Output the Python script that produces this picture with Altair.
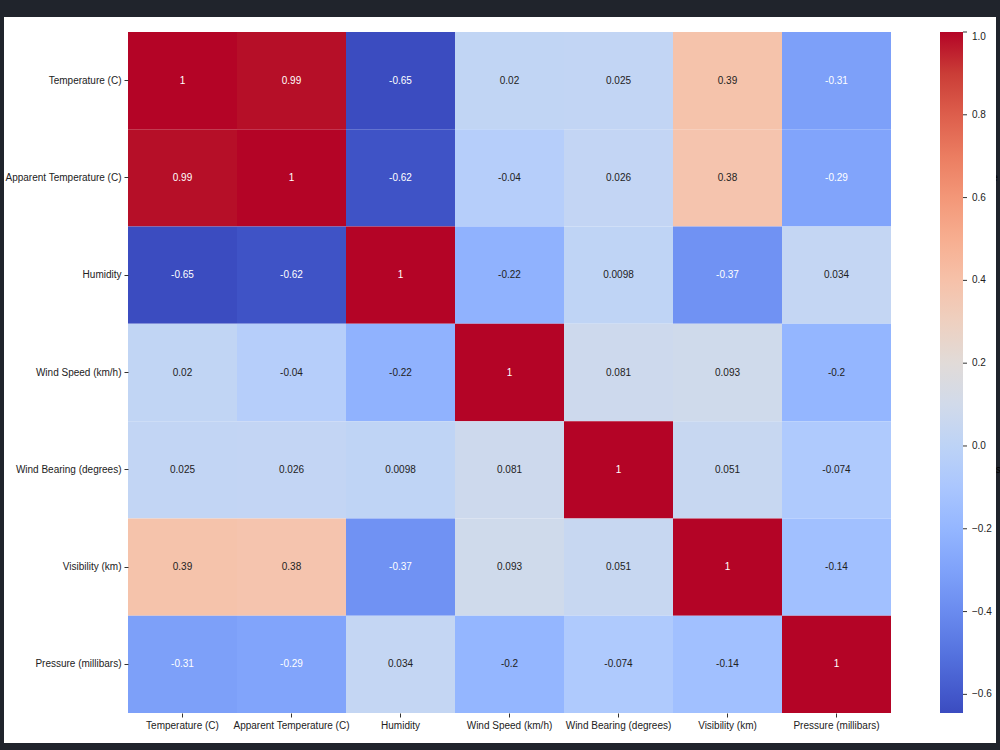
import altair as alt
import pandas as pd

variables = ["Temperature (C)", "Apparent Temperature (C)", "Humidity", "Wind Speed (km/h)",
             "Wind Bearing (degrees)", "Visibility (km)", "Pressure (millibars)"]

row_temperature = [1, 0.99, -0.65, 0.02, 0.025, 0.39, -0.31]
row_apparent = [0.99, 1, -0.62, -0.04, 0.026, 0.38, -0.29]
row_humidity = [-0.65, -0.62, 1, -0.22, 0.0098, -0.37, 0.034]
row_wind_speed = [0.02, -0.04, -0.22, 1, 0.081, 0.093, -0.2]
row_wind_bearing = [0.025, 0.026, 0.0098, 0.081, 1, 0.051, -0.074]
row_visibility = [0.39, 0.38, -0.37, 0.093, 0.051, 1, -0.14]
row_pressure = [-0.31, -0.29, 0.034, -0.2, -0.074, -0.14, 1]

rows = [row_temperature, row_apparent, row_humidity, row_wind_speed,
        row_wind_bearing, row_visibility, row_pressure]

colorbar_ticks = [-0.6, -0.4, -0.2, 0.0, 0.2, 0.4, 0.6, 0.8, 1.0]

# matplotlib "coolwarm" key colours (33 evenly spaced stops)
coolwarm = ["#3b4cc0", "#445acc", "#4d68d7", "#5775e1", "#6282ea", "#6c8ef1", "#779af7", "#82a5fb",
            "#8db0fe", "#98b9ff", "#a3c2ff", "#aec9fd", "#b8d0f9", "#c2d5f4", "#ccd9ee", "#d5dbe6",
            "#dddddd", "#e5d8d1", "#ecd3c5", "#f1ccb9", "#f5c4ad", "#f7bba0", "#f7b194", "#f7a687",
            "#f49a7b", "#f18d6f", "#ec7f63", "#e57058", "#de604d", "#d55042", "#cb3e38", "#c0282f",
            "#b40426"]
vmin, vmax = -0.645, 1.0
domain = [vmin + (vmax - vmin) * i / (len(coolwarm) - 1) for i in range(len(coolwarm))]

records = []
for r, name_r in enumerate(variables):
    for c, name_c in enumerate(variables):
        v = rows[r][c]
        records.append({"row": name_r, "col": name_c, "value": v, "label": f"{v:.2g}"})
df = pd.DataFrame(records)
ticks_df = pd.DataFrame({"t": colorbar_ticks})

FONT = "Liberation Sans"
FS = 10

W, H = 763, 681
PAD_L, PAD_T = 128, 32
CB_X = 940 - PAD_L
CB_W = 23

frame = alt.Chart(pd.DataFrame({"a": [0]})).mark_rect(color="white").encode(
    x=alt.value(4 - PAD_L), x2=alt.value(996 - PAD_L),
    y=alt.value(17 - PAD_T), y2=alt.value(743 - PAD_T),
)

xenc = alt.X("col:N", sort=variables, title=None,
             axis=alt.Axis(labelAngle=0, domain=False, tickSize=4, tickColor="#333",
                           labelFont=FONT, labelFontSize=FS, labelColor="#222", labelPadding=3))
yenc = alt.Y("row:N", sort=variables, title=None,
             axis=alt.Axis(domain=False, tickSize=4, tickColor="#333",
                           labelFont=FONT, labelFontSize=FS, labelColor="#222", labelPadding=3))

cscale = alt.Scale(domain=domain, range=coolwarm, clamp=True)

heat = alt.Chart(df).mark_rect().encode(
    x=xenc, y=yenc,
    color=alt.Color("value:Q", scale=cscale,
                    legend=alt.Legend(orient="none", legendX=CB_X, legendY=0,
                                      direction="vertical", gradientLength=H, gradientThickness=CB_W,
                                      values=colorbar_ticks, title=None, labelOverlap=False,
                                      labelFont=FONT, labelFontSize=FS, labelColor="#222",
                                      labelBaseline="middle", labelOffset=9,
                                      labelExpr="replace(format(datum.value, '.1f'), '-', '\u2212')")),
)

text = alt.Chart(df).mark_text(font=FONT, fontSize=FS).encode(
    x=alt.X("col:N", sort=variables),
    y=alt.Y("row:N", sort=variables),
    text="label:N",
    color=alt.condition("datum.value > 0.8 || datum.value < -0.25",
                        alt.value("white"), alt.value("#222")),
)

cb_ticks = alt.Chart(ticks_df).mark_rule(color="#333", strokeWidth=1).encode(
    y=alt.Y("t:Q", scale=alt.Scale(domain=[vmin, vmax], nice=False, zero=False), axis=None),
    x=alt.value(CB_X + CB_W), x2=alt.value(CB_X + CB_W + 4),
)

chart = alt.layer(frame, heat, text, cb_ticks).resolve_scale(y="independent").properties(
    width=W, height=H,
    background="#20242c",
    padding={"left": PAD_L, "top": PAD_T, "right": 1000 - PAD_L - W, "bottom": 750 - PAD_T - H},
    autosize=alt.AutoSizeParams(type="none"),
).configure_view(strokeWidth=0).configure_scale(bandPaddingInner=0, bandPaddingOuter=0)

chart.save("out.html", embed_options={"renderer": "svg", "actions": False})
